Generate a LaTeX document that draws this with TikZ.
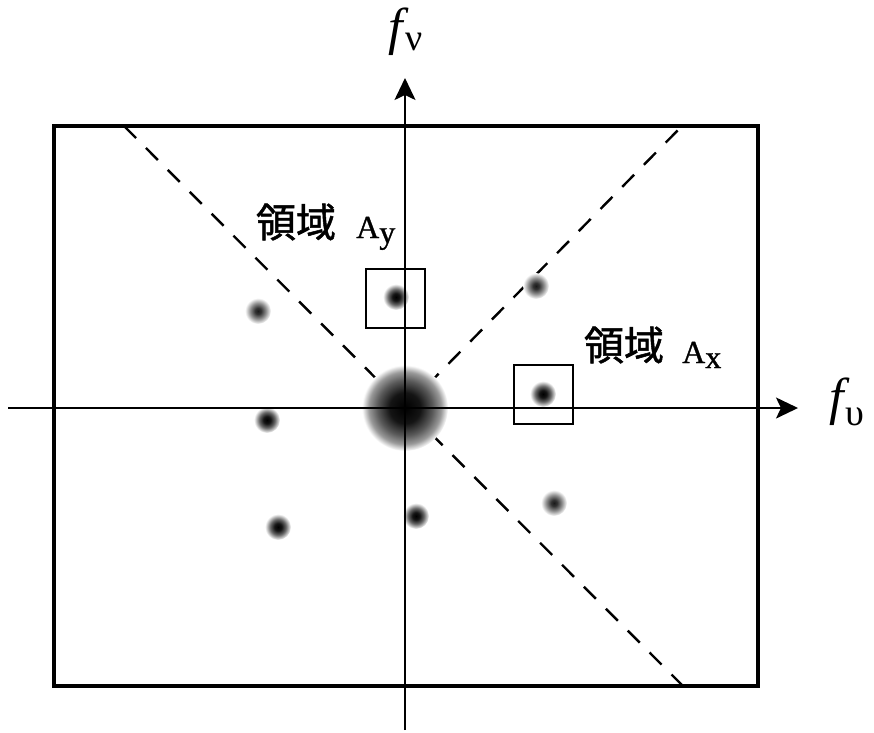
\documentclass[tikz,border=0pt]{standalone}
\usepackage{fontspec}
\setmainfont{Liberation Serif}
\newfontfamily\cjk{Noto Sans CJK JP}[RawFeature={embolden=1.3}]
\newfontfamily\alabfont{Liberation Serif}[RawFeature={embolden=1.0}]
\usetikzlibrary{arrows.meta}
\pgfdeclareradialshading{dotshade}{\pgfpoint{0bp}{0bp}}{color(0bp)=(black); color(7bp)=(black!92); color(15bp)=(black!60); color(25bp)=(white); color(50bp)=(white)}
\pgfdeclareradialshading{dotshadelight}{\pgfpoint{0bp}{0bp}}{color(0bp)=(black!90); color(6bp)=(black!80); color(15bp)=(black!45); color(25bp)=(white); color(50bp)=(white)}
\pgfdeclareradialshading{blobshade}{\pgfpoint{0bp}{0bp}}{color(0bp)=(black); color(9bp)=(black!92); color(16bp)=(black!65); color(21bp)=(black!40); color(25bp)=(white); color(50bp)=(white)}
\tikzset{
  axisline/.style={line width=2pt, -{Stealth[length=22pt,width=21pt,inset=5pt]}},
  frameline/.style={line width=4pt},
  diag/.style={line width=2.4pt, dash pattern=on 17pt off 14pt},
  regionbox/.style={line width=1.6pt},
  cjklab/.style={inner sep=0pt, font=\cjk\fontsize{40pt}{42pt}\selectfont},
  alab/.style={inner sep=0pt, anchor=base west, font=\alabfont\fontsize{32pt}{34pt}\selectfont},
  flab/.style={inner sep=0pt, anchor=base west, font=\fontsize{52pt}{54pt}\selectfont\itshape},
  sublab/.style={inner sep=0pt, anchor=base west, font=\fontsize{38pt}{40pt}\selectfont},
}
\begin{document}
\begin{tikzpicture}[x=1pt,y=-1pt]
\useasboundingbox (0,0) rectangle (874,732);
% coordinates
\coordinate (O) at (405,408);
\coordinate (vb) at (405,730);
\coordinate (vt) at (405,78);
\coordinate (hl) at (8,408);
\coordinate (hr) at (798,408);
\coordinate (ul) at (124,126);
\coordinate (lr) at (683,686);
\coordinate (ur) at (682,126);
% dashed diagonals
\draw[diag] (ul) -- (lr);
\draw[diag] (O) -- (ur);
% spots
\coordinate (d1) at (258,311);
\coordinate (d2) at (396,297);
\coordinate (d3) at (536,286);
\coordinate (d4) at (543,394);
\coordinate (d5) at (267,420);
\coordinate (d6) at (278,527);
\coordinate (d7) at (416,516);
\coordinate (d8) at (554,503);
\foreach \d in {d2,d4,d5,d6,d7} {\shade[shading=dotshade] (\d) circle (13pt);}
\foreach \d in {d1,d3,d8} {\shade[shading=dotshadelight] (\d) circle (13pt);}
\shade[shading=blobshade] (O) circle (43pt);
% axes
\draw[axisline] (vb) -- (vt);
\draw[axisline] (hl) -- (hr);
% boxes
\draw[regionbox] (366,269) rectangle (425,328);
\draw[regionbox] (514,365) rectangle (573,424);
% frame
\draw[frameline] (54,126) rectangle (758,686);
% labels
\node[cjklab] (ly) at (296,222) {領域};
\node[alab] (ay) at (356,238) {A\raisebox{-5pt}{y}};
\node[cjklab] (lx) at (624,345) {領域};
\node[alab] (ax) at (682,363) {A\raisebox{-5pt}{x}};
\node[flab] (fv) at (388,44) {f};
\node[sublab] (fvs) at (405,50) {ν};
\node[flab] (fu) at (829,414) {f};
\node[sublab] (fus) at (845,425) {υ};
\end{tikzpicture}
\end{document}
